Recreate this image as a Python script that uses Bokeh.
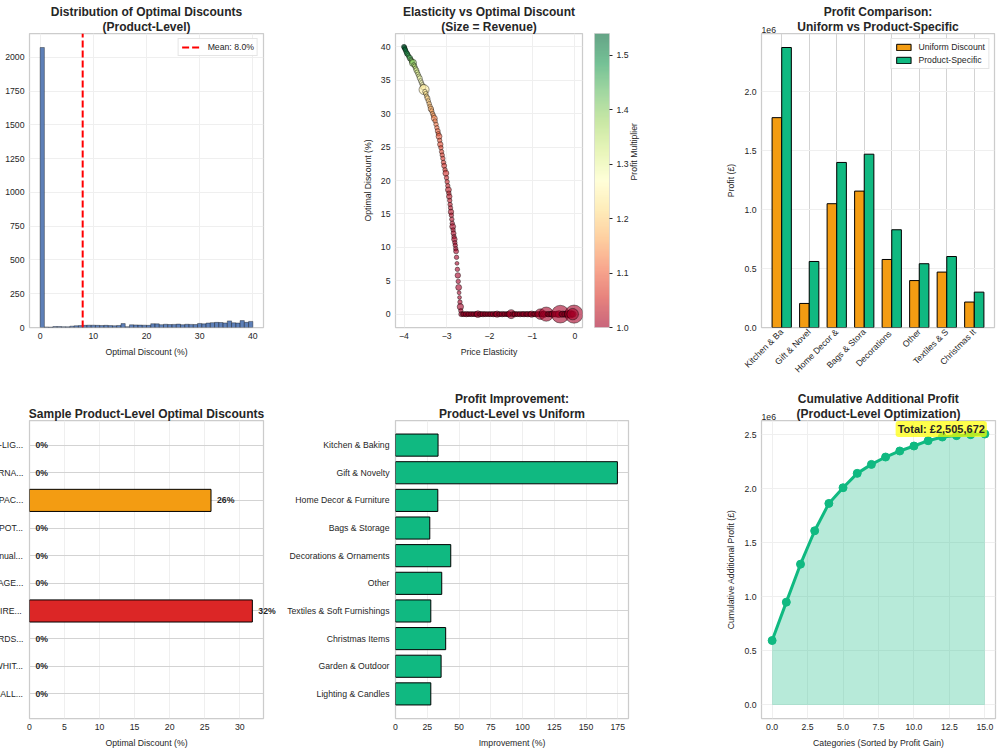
import numpy as np
from math import pi

from bokeh.plotting import figure
from bokeh.layouts import row, column
from bokeh.models import (ColumnDataSource, Range1d, FixedTicker, Legend, LegendItem,
                          Label, ColorBar, LinearColorMapper, LinearAxis,
                          PrintfTickFormatter, Title)
from bokeh.embed import file_html
from bokeh.resources import INLINE

# ---------------------------------------------------------------- data
# Histogram of product-level optimal discounts (bins of 0.8 pts from 0 to 40)
hist_bin_start = 0.0
hist_bin_width = 0.8
hist_counts = [2073, 4, 3, 7, 7, 6, 5, 10, 13, 14,
               16, 17, 17, 16, 15, 16, 14, 13, 15, 29,
               6, 20, 19, 18, 17, 16, 28, 27, 21, 24,
               22, 23, 25, 21, 24, 23, 22, 30, 27, 33,
               36, 38, 37, 34, 49, 35, 33, 51, 38, 45]
mean_discount = 8.0

# Products that get a positive discount: elasticity, discount, profit multiplier, revenue (GBP k)
steep_elasticity = [-4.00, -3.99, -3.98, -3.97, -3.96, -3.945, -3.93, -3.915, -3.90, -3.88,
                    -3.86, -3.84, -3.82, -3.805, -3.79, -3.77, -3.75, -3.73, -3.71, -3.69,
                    -3.67, -3.65, -3.63, -3.61, -3.59, -3.57, -3.55, -3.53, -3.51, -3.49,
                    -3.47, -3.45, -3.43, -3.41, -3.39, -3.37, -3.35, -3.33, -3.31, -3.29,
                    -3.27, -3.25, -3.23, -3.21, -3.195, -3.18, -3.165, -3.15, -3.135, -3.12,
                    -3.105, -3.09, -3.075, -3.06, -3.04, -3.02, -3.005, -2.99, -2.975, -2.96,
                    -2.95, -2.94, -2.93, -2.92, -2.91, -2.90, -2.89, -2.88, -2.87, -2.86,
                    -2.85, -2.84, -2.83, -2.82, -2.81, -2.80, -2.79, -2.78, -2.77, -2.76,
                    -2.75, -2.74, -2.73, -2.72, -2.71, -2.70, -2.69, -2.68, -2.67, -2.66]
steep_discount = [40.0, 39.9, 39.7, 39.6, 39.4, 39.2, 39.0, 38.9, 38.7, 38.5,
                  38.3, 38.1, 37.9, 37.7, 37.6, 37.3, 37.1, 36.8, 36.5, 36.2,
                  35.9, 35.6, 35.3, 34.9, 34.6, 34.3, 34.0, 33.6, 33.3, 33.0,
                  32.6, 32.3, 31.9, 31.5, 31.1, 30.7, 30.4, 30.0, 29.7, 29.3,
                  28.9, 28.4, 27.9, 27.4, 27.0, 26.6, 26.0, 25.4, 24.9, 24.3,
                  23.8, 23.3, 22.7, 22.2, 21.6, 21.1, 20.4, 19.8, 19.2, 18.6,
                  18.1, 17.6, 17.0, 16.4, 15.9, 15.3, 14.8, 14.2, 13.6, 13.1,
                  12.6, 12.1, 11.6, 11.2, 10.7, 10.3, 9.8, 9.4, 8.5, 7.6,
                  6.7, 5.8, 4.9, 4.0, 3.2, 2.5, 1.8, 1.1, 0.5, 0.0]
steep_mult = [1.54, 1.53, 1.52, 1.51, 1.50, 1.49, 1.48, 1.47, 1.46, 1.45,
              1.44, 1.42, 1.41, 1.40, 1.39, 1.38, 1.36, 1.35, 1.33, 1.32,
              1.31, 1.30, 1.29, 1.28, 1.27, 1.26, 1.25, 1.24, 1.23, 1.22,
              1.21, 1.20, 1.19, 1.18, 1.17, 1.16, 1.155, 1.15, 1.14, 1.13,
              1.125, 1.12, 1.11, 1.10, 1.095, 1.09, 1.085, 1.08, 1.075, 1.07,
              1.065, 1.06, 1.055, 1.05, 1.05, 1.045, 1.04, 1.04, 1.035, 1.03,
              1.03, 1.025, 1.025, 1.02, 1.02, 1.02, 1.015, 1.015, 1.01, 1.01,
              1.01, 1.01, 1.008, 1.007, 1.006, 1.005, 1.005, 1.004, 1.003, 1.002,
              1.002, 1.001, 1.001, 1.0, 1.0, 1.0, 1.0, 1.0, 1.0, 1.0]
steep_revenue = [5, 4, 4, 4, 4, 4, 5, 4, 4, 4,
                 6, 4, 5, 4, 10, 4, 4, 4, 5, 4,
                 4, 4, 5, 4, 4, 4, 6, 20, 4, 4,
                 4, 5, 4, 4, 4, 6, 4, 4, 4, 7,
                 4, 4, 4, 5, 4, 7, 4, 6, 4, 4,
                 4, 4, 4, 5, 4, 7, 4, 4, 4, 7,
                 4, 6, 4, 4, 4, 6, 4, 4, 4, 7,
                 4, 5, 4, 6, 4, 4, 4, 5, 4, 3,
                 4, 6, 4, 7, 3, 3, 4, 8, 4, 5]

# Products whose best discount is zero (profit multiplier 1.0)
flat_elasticity = [-2.63, -2.60, -2.57, -2.54, -2.51, -2.48, -2.45, -2.42, -2.39, -2.36,
                   -2.33, -2.30, -2.27, -2.24, -2.21, -2.18, -2.15, -2.12, -2.09, -2.06,
                   -2.03, -2.00, -1.97, -1.94, -1.91, -1.88, -1.85, -1.82, -1.79, -1.76,
                   -1.73, -1.70, -1.67, -1.64, -1.61, -1.58, -1.55, -1.52, -1.49, -1.46,
                   -1.43, -1.40, -1.37, -1.34, -1.31, -1.28, -1.25, -1.22, -1.19, -1.16,
                   -1.13, -1.10, -1.07, -1.04, -1.01, -0.98, -0.95, -0.92, -0.89, -0.86,
                   -0.83, -0.81, -0.78, -0.75, -0.72, -0.69, -0.67, -0.64, -0.61, -0.58,
                   -0.55, -0.52, -0.49, -0.46, -0.43, -0.40, -0.37, -0.34, -0.31, -0.28,
                   -0.25, -0.22, -0.19, -0.16, -0.13, -0.10, -0.07, -0.04, -0.02, -0.05]
flat_revenue = [4, 5, 4, 6, 4, 5, 4, 5, 4, 5,
                4, 5, 9, 4, 5, 4, 6, 4, 5, 4,
                5, 4, 5, 4, 6, 4, 5, 8, 4, 5,
                4, 6, 4, 5, 4, 5, 6, 4, 16, 5,
                4, 6, 4, 5, 4, 6, 4, 5, 6, 4,
                5, 6, 4, 5, 8, 4, 5, 6, 4, 5,
                6, 22, 6, 5, 8, 6, 40, 5, 6, 5,
                6, 8, 5, 6, 7, 6, 10, 62, 6, 8,
                6, 7, 6, 10, 7, 12, 6, 7, 65, 26]
flat_discount = [0.0] * len(flat_elasticity)
flat_mult = [1.0] * len(flat_elasticity)

# Category profit under a uniform discount vs product-specific discounts (GBP)
profit_categories = ["Kitchen & Baking", "Gift & Novelty", "Home Decor & Furniture",
                     "Bags & Storage", "Decorations & Ornaments", "Other",
                     "Textiles & Soft Furnishings", "Christmas Items"]
uniform_profit = [1780000, 204000, 1050000, 1157000, 577000, 398000, 470000, 216000]
specific_profit = [2375000, 560000, 1400000, 1470000, 829000, 541000, 602000, 300000]

# Sample products and their optimal discounts (%)
sample_products = ["WHITE HANGING HEART T-LIGHT HOLDER",
                   "ASSORTED COLOUR BIRD ORNAMENT",
                   "PAPER CHAIN KIT RETROSPACE DESIGN",
                   "CHILDRENS APRON RETROSPOT DESIGN",
                   "POSTAGE ADJUSTMENT Manual entry",
                   "REGENCY CAKESTAND VINTAGE 3 TIER",
                   "TEA TIME TEA TOWEL EMPIRE DESIGN",
                   "PACK OF 6 CHRISTMAS CARDS ASSORTED",
                   "WOODEN FRAME ANTIQUE WHITE",
                   "HANGING METAL HEART SMALL LANTERN"]
sample_discounts = [0.0, 0.0, 25.9, 0.0, 0.0, 0.0, 31.8, 0.0, 0.0, 0.0]

# Profit improvement of product-level over uniform discounting (%)
improvement_categories = ["Kitchen & Baking", "Gift & Novelty", "Home Decor & Furniture",
                          "Bags & Storage", "Decorations & Ornaments", "Other",
                          "Textiles & Soft Furnishings", "Christmas Items",
                          "Garden & Outdoor", "Lighting & Candles"]
improvement_pct = [33.5, 174.7, 33.3, 27.0, 43.5, 36.4, 27.8, 39.5, 35.9, 27.8]

# Cumulative additional profit, categories sorted by profit gain (GBP)
cumulative_gain = [596000, 951000, 1302000, 1611000, 1864000, 2009000, 2142000, 2225000,
                   2293000, 2349000, 2395000, 2444000, 2478000, 2491000, 2500000, 2505672]

# Tick positions
hist_xticks = [0, 10, 20, 30, 40]
hist_yticks = [0, 250, 500, 750, 1000, 1250, 1500, 1750, 2000]
scatter_xticks = [-4, -3, -2, -1, 0]
scatter_yticks = [0, 5, 10, 15, 20, 25, 30, 35, 40]
mult_ticks = [1.0, 1.1, 1.2, 1.3, 1.4, 1.5]
profit_yticks = [0, 500000, 1000000, 1500000, 2000000]
sample_xticks = [0, 5, 10, 15, 20, 25, 30]
improve_xticks = [0, 25, 50, 75, 100, 125, 150, 175]
cum_xticks = [0, 2.5, 5, 7.5, 10, 12.5, 15]
cum_yticks = [0, 500000, 1000000, 1500000, 2000000, 2500000]

# ---------------------------------------------------------------- style
FONT = "Liberation Sans"
INK = "#262626"
GRID_SOFT = "#efefef"
GRID_FIRM = "#d3d3d3"
EDGE = "#cccccc"
ORANGE = "#f39c12"
GREEN = "#10b981"
RED = "#dc2626"
HIST_BLUE = "#4c72b0"
FS = "8.7px"

RDYLGN = ["#a50026", "#d73027", "#f46d43", "#fdae61", "#fee08b", "#ffffbf",
          "#d9ef8b", "#a6d96a", "#66bd63", "#1a9850", "#006837"]


def smooth_palette(anchors, n=256):
    rgb = np.array([[int(h[i:i + 2], 16) for i in (1, 3, 5)] for h in anchors], dtype=float)
    pos = np.linspace(0, 1, len(anchors))
    out = []
    for t in np.linspace(0, 1, n):
        c = [int(round(np.interp(t, pos, rgb[:, k]))) for k in range(3)]
        out.append("#%02x%02x%02x" % tuple(c))
    return out


def padded(lo, hi, frac=0.05):
    span = hi - lo
    return lo - frac * span, hi + frac * span


def style_axis(ax):
    ax.axis_line_color = None
    ax.major_tick_line_color = None
    ax.minor_tick_line_color = None
    ax.major_tick_out = 0
    ax.major_tick_in = 0
    ax.minor_tick_out = 0
    ax.minor_tick_in = 0
    ax.major_label_text_font = FONT
    ax.major_label_text_font_size = FS
    ax.major_label_text_color = INK
    ax.major_label_standoff = 5
    ax.axis_label_text_font = FONT
    ax.axis_label_text_font_size = FS
    ax.axis_label_text_font_style = "normal"
    ax.axis_label_text_color = INK
    ax.axis_label_standoff = 5


def add_titles(p, lines, first_standoff=0, line_gap=-3):
    """Stack centred title lines above the frame (first added sits nearest the frame)."""
    for k, line in enumerate(reversed(lines)):
        p.add_layout(Title(text=line, align="center", text_font=FONT, text_font_size="12px",
                           text_font_style="bold", text_color=INK,
                           standoff=first_standoff if k == 0 else line_gap), "above")


def add_exponent(p, text):
    """Scale note at the top-left corner of the frame (kept in a side panel so it is not clipped)."""
    p.add_layout(Label(x=p.x_range.start, y=p.y_range.end, y_offset=1, text=text,
                       text_baseline="bottom", text_font=FONT, text_font_size=FS,
                       text_color=INK), "left")


def styled_figure(width, height, xr, yr, left, right, top, bottom):
    p = figure(width=width, height=height, title=None,
               x_range=Range1d(*xr), y_range=Range1d(*yr),
               output_backend="svg", toolbar_location=None,
               min_border_left=left, min_border_right=right,
               min_border_top=top, min_border_bottom=bottom)
    p.outline_line_color = EDGE
    p.outline_line_width = 1.25
    p.background_fill_color = "white"
    p.border_fill_color = "white"
    style_axis(p.xaxis[0])
    style_axis(p.yaxis[0])
    p.xgrid.grid_line_color = GRID_SOFT
    p.ygrid.grid_line_color = GRID_SOFT
    return p


def style_legend(leg):
    leg.label_text_font = FONT
    leg.label_text_font_size = FS
    leg.label_text_color = INK
    leg.border_line_color = EDGE
    leg.border_line_width = 1
    leg.background_fill_alpha = 0.85
    leg.padding = 3
    leg.margin = 5
    leg.spacing = 3
    leg.glyph_width = 20
    leg.glyph_height = 8
    leg.label_height = 8
    leg.label_standoff = 6


def millions(ticks):
    return {t: f"{t / 1e6:.1f}" for t in ticks}


# ---------------------------------------------------------------- 1: histogram
left_edges = [hist_bin_start + i * hist_bin_width for i in range(len(hist_counts))]
right_edges = [e + hist_bin_width for e in left_edges]
hist_top = 1.05 * max(hist_counts)
p1 = styled_figure(340, 380, padded(left_edges[0], right_edges[-1]), (0, hist_top),
                   29, 77, 33, 49)
add_titles(p1, ["Distribution of Optimal Discounts", "(Product-Level)"])
p1.quad(left=left_edges, right=right_edges, bottom=0, top=hist_counts,
        fill_color=HIST_BLUE, fill_alpha=0.9, line_color="black", line_alpha=0.6,
        line_width=0.6)
mean_line = p1.line(x=[mean_discount, mean_discount], y=[0, hist_top],
                    line_color="red", line_width=2, line_dash="7 3")
leg1 = Legend(items=[LegendItem(label=f"Mean: {mean_discount:.1f}%", renderers=[mean_line])],
              location="top_right")
style_legend(leg1)
p1.add_layout(leg1)
p1.xaxis.ticker = FixedTicker(ticks=hist_xticks)
p1.yaxis.ticker = FixedTicker(ticks=hist_yticks)
p1.xaxis.axis_label = "Optimal Discount (%)"

# ---------------------------------------------------------------- 2: elasticity scatter
elasticity = steep_elasticity + flat_elasticity
opt_discount = steep_discount + flat_discount
profit_mult = steep_mult + flat_mult
revenue_k = steep_revenue + flat_revenue

palette = smooth_palette(RDYLGN)
mapper = LinearColorMapper(palette=palette, low=min(profit_mult), high=max(profit_mult))
scatter_src = ColumnDataSource(dict(
    e=elasticity, d=opt_discount, m=profit_mult,
    s=[2.25 * float(np.sqrt(r)) for r in revenue_k]))
ex = padded(min(elasticity), max(elasticity))
dy = padded(min(opt_discount), max(opt_discount))
p2 = styled_figure(340, 380, ex, dy, 55, 98, 33, 49)
add_titles(p2, ["Elasticity vs Optimal Discount", "(Size = Revenue)"])
p2.scatter("e", "d", size="s", source=scatter_src,
           fill_color={"field": "m", "transform": mapper}, fill_alpha=0.6,
           line_color="black", line_alpha=0.6, line_width=0.7)
p2.xaxis.ticker = FixedTicker(ticks=scatter_xticks)
p2.yaxis.ticker = FixedTicker(ticks=scatter_yticks)
p2.xaxis.axis_label = "Price Elasticity"
p2.yaxis.axis_label = "Optimal Discount (%)"
cbar = ColorBar(color_mapper=mapper, width=15, padding=0, margin=0,
                location=(12, 0),
                ticker=FixedTicker(ticks=mult_ticks),
                formatter=PrintfTickFormatter(format="%.1f"),
                scale_alpha=0.6, bar_line_color=EDGE, bar_line_width=1,
                major_tick_out=3, major_tick_in=0, major_tick_line_color=INK,
                minor_tick_line_color=None, label_standoff=4,
                major_label_text_font=FONT, major_label_text_font_size=FS,
                major_label_text_color=INK, border_line_color=None,
                background_fill_color=None)
p2.add_layout(cbar, "right")
cbar_axis = LinearAxis(ticker=FixedTicker(ticks=[]), axis_label="Profit Multiplier")
style_axis(cbar_axis)
cbar_axis.axis_label_standoff = 2
try:
    cbar_axis.axis_label_orientation = pi / 2
except Exception:
    pass
p2.add_layout(cbar_axis, "right")

# ---------------------------------------------------------------- 3: grouped profit bars
bar_w = 0.35
cat_pos = list(range(len(profit_categories)))
p3_x = padded(cat_pos[0] - bar_w, cat_pos[-1] + bar_w)
p3_top = 1.05 * max(max(uniform_profit), max(specific_profit))
p3 = styled_figure(320, 380, p3_x, (0, p3_top), 81, 6, 33, 49)
add_titles(p3, ["Profit Comparison:", "Uniform vs Product-Specific"])
r_uni = p3.vbar(x=[c - bar_w / 2 for c in cat_pos], top=uniform_profit, width=bar_w,
                fill_color=ORANGE, line_color="black", line_width=1)
r_spec = p3.vbar(x=[c + bar_w / 2 for c in cat_pos], top=specific_profit, width=bar_w,
                 fill_color=GREEN, line_color="black", line_width=1)
leg3 = Legend(items=[LegendItem(label="Uniform Discount", renderers=[r_uni]),
                     LegendItem(label="Product-Specific", renderers=[r_spec])],
              location="top_right")
style_legend(leg3)
leg3.glyph_width = 18
p3.add_layout(leg3)
p3.xaxis.ticker = FixedTicker(ticks=cat_pos)
p3.xaxis.major_label_overrides = {c: n[:12] for c, n in zip(cat_pos, profit_categories)}
p3.xaxis.major_label_orientation = pi / 4
p3.xaxis.major_label_standoff = 3
p3.yaxis.ticker = FixedTicker(ticks=profit_yticks)
p3.yaxis.major_label_overrides = millions(profit_yticks)
p3.yaxis.axis_label = "Profit (£)"
p3.xgrid.grid_line_color = GRID_FIRM
add_exponent(p3, "1e6")

# ---------------------------------------------------------------- 4: sample products
# The long product labels run past the left edge of the page; the value labels are
# kept in the (off-page) left panel so that they may spill over the frame edge.
P4_LEFT = 380
P4_SHIFT = P4_LEFT - 29
n_s = len(sample_products)
s_pos = [n_s - 1 - i for i in range(n_s)]
s_colors = [RED if v > 30 else ORANGE if v > 15 else GREEN for v in sample_discounts]
s_src = ColumnDataSource(dict(
    y=s_pos, v=sample_discounts, c=s_colors,
    la=[1.0 if v > 0 else 0.0 for v in sample_discounts]))
p4 = styled_figure(280 + P4_SHIFT, 370, (0, 1.05 * max(sample_discounts)),
                   padded(min(s_pos) - 0.4, max(s_pos) + 0.4), P4_LEFT, 17, 40, 32)
p4.margin = (0, 0, 0, -P4_SHIFT)
add_titles(p4, ["Sample Product-Level Optimal Discounts"])
p4.hbar(y="y", right="v", left=0, height=0.8, source=s_src, fill_color="c",
        line_color="black", line_alpha="la", line_width=1)
for yv, v in zip(s_pos, sample_discounts):
    p4.add_layout(Label(x=v, y=yv, x_offset=6, text=f"{v:.0f}%", text_baseline="middle",
                        text_font=FONT, text_font_size=FS, text_font_style="bold",
                        text_color=INK), "left")
p4.yaxis.ticker = FixedTicker(ticks=s_pos)
p4.yaxis.major_label_overrides = {p: n[:25] + "..." for p, n in zip(s_pos, sample_products)}
p4.yaxis.major_label_standoff = 6
p4.ygrid.grid_line_color = GRID_FIRM
p4.xaxis.ticker = FixedTicker(ticks=sample_xticks)
p4.xaxis.axis_label = "Optimal Discount (%)"

# ---------------------------------------------------------------- 5: improvement bars
n_i = len(improvement_categories)
i_pos = [n_i - 1 - i for i in range(n_i)]
p5 = styled_figure(400, 370, (0, 1.05 * max(improvement_pct)),
                   padded(min(i_pos) - 0.4, max(i_pos) + 0.4), 115, 52, 40, 32)
add_titles(p5, ["Profit Improvement:", "Product-Level vs Uniform"])
p5.hbar(y=i_pos, right=improvement_pct, left=0, height=0.8, fill_color=GREEN,
        line_color="black", line_width=1)
p5.yaxis.ticker = FixedTicker(ticks=i_pos)
p5.yaxis.major_label_overrides = {p: n for p, n in zip(i_pos, improvement_categories)}
p5.yaxis.major_label_standoff = 6
p5.ygrid.grid_line_color = GRID_FIRM
p5.xaxis.ticker = FixedTicker(ticks=improve_xticks)
p5.xaxis.axis_label = "Improvement (%)"

# ---------------------------------------------------------------- 6: cumulative gain
steps = list(range(len(cumulative_gain)))
total_gain = cumulative_gain[-1]
p6_x = padded(steps[0], steps[-1])
p6_y = padded(0, total_gain)
p6 = styled_figure(320, 370, p6_x, p6_y, 81, 5, 40, 32)
add_titles(p6, ["Cumulative Additional Profit", "(Product-Level Optimization)"])
p6.varea(x=steps, y1=0, y2=cumulative_gain, fill_color=GREEN, fill_alpha=0.3)
p6.line(steps, cumulative_gain, line_color=GREEN, line_width=3)
p6.scatter(steps, cumulative_gain, size=8, fill_color=GREEN, line_color=GREEN)
p6.add_layout(Label(x=steps[-1], y=total_gain, x_offset=2, y_offset=5,
                    text=f"Total: £{total_gain:,.0f}", text_align="right",
                    text_baseline="middle", text_font=FONT, text_font_size="11px",
                    text_font_style="bold", text_color=INK,
                    background_fill_color="yellow", background_fill_alpha=0.7,
                    padding=2, border_radius=3))
p6.xaxis.ticker = FixedTicker(ticks=cum_xticks)
p6.xaxis.formatter = PrintfTickFormatter(format="%.1f")
p6.yaxis.ticker = FixedTicker(ticks=cum_yticks)
p6.yaxis.major_label_overrides = millions(cum_yticks)
p6.xaxis.axis_label = "Categories (Sorted by Profit Gain)"
p6.yaxis.axis_label = "Cumulative Additional Profit (£)"
add_exponent(p6, "1e6")

layout = column(row(p1, p2, p3), row(p4, p5, p6))
open("out.html", "w").write(file_html(layout, INLINE, title="Discount optimisation"))
